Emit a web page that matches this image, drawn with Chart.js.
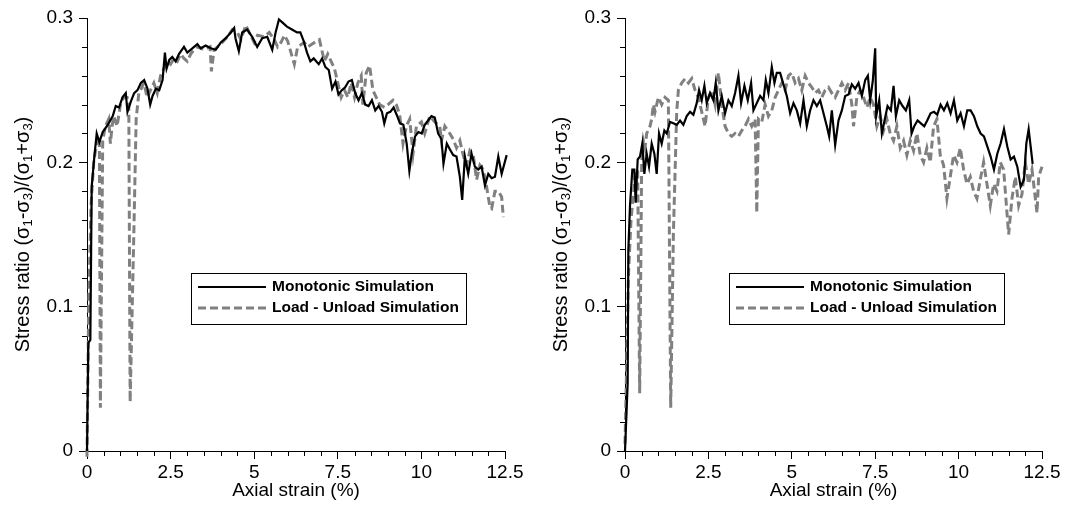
<!DOCTYPE html>
<html>
<head>
<meta charset="utf-8">
<script src="https://cdn.jsdelivr.net/npm/chart.js@4.4.1/dist/chart.umd.min.js"></script>
<style>
    body { margin: 0; background: #fff; }
    .wrap { position: absolute; top: 0; width: 542px; height: 517px; }
</style>
</head>
<body>
<div class="wrap" style="left:0"><canvas id="leftChart" width="542" height="517"></canvas></div>
<div class="wrap" style="left:542px"><canvas id="rightChart" width="542" height="517"></canvas></div>
<script>
// Left panel - monotonic
const leftMonoStrain = [
    0, 0.04, 0.1, 0.14, 0.22, 0.29, 0.37, 0.47, 0.62, 0.77,
    0.86, 0.96, 1.06, 1.16, 1.21, 1.31, 1.41, 1.51, 1.61, 1.71,
    1.81, 1.89, 1.96, 2.06, 2.16, 2.26, 2.33, 2.38, 2.46, 2.55,
    2.65, 2.75, 2.9, 3.0, 3.15, 3.3, 3.4, 3.55, 3.7, 3.85,
    4.0, 4.15, 4.3, 4.4, 4.44, 4.54, 4.64, 4.79, 4.94, 5.09,
    5.24, 5.39, 5.54, 5.64, 5.74, 5.84, 5.98, 6.13, 6.28, 6.38,
    6.48, 6.58, 6.68, 6.78, 6.93, 7.03, 7.13, 7.23, 7.33, 7.43,
    7.52, 7.62, 7.72, 7.82, 7.92, 8.02, 8.12, 8.22, 8.32, 8.42,
    8.52, 8.62, 8.72, 8.82, 8.89, 8.97, 9.07, 9.17, 9.26, 9.36,
    9.46, 9.56, 9.64, 9.71, 9.81, 9.91, 10.01, 10.1, 10.2, 10.3,
    10.4, 10.5, 10.6, 10.66, 10.76, 10.85, 10.95, 11.05, 11.15, 11.22,
    11.3, 11.4, 11.5, 11.6, 11.7, 11.8, 11.9, 12.0, 12.1, 12.2,
    12.3, 12.4, 12.55, 12.62
];
const leftMonoRatio = [
    0, 0.075, 0.077, 0.183, 0.204, 0.22, 0.214, 0.221, 0.226, 0.232,
    0.239, 0.238, 0.245, 0.248, 0.235, 0.242, 0.248, 0.25, 0.255, 0.257,
    0.251, 0.24, 0.246, 0.251, 0.25, 0.257, 0.276, 0.265, 0.271, 0.273,
    0.27, 0.275, 0.28, 0.276, 0.279, 0.282, 0.279, 0.281, 0.279, 0.278,
    0.283, 0.286, 0.29, 0.293, 0.286, 0.277, 0.29, 0.292, 0.287, 0.28,
    0.286, 0.287, 0.278, 0.29, 0.299, 0.297, 0.294, 0.292, 0.29, 0.29,
    0.284, 0.276, 0.27, 0.272, 0.268, 0.272, 0.266, 0.264, 0.251, 0.256,
    0.247, 0.25, 0.252, 0.256, 0.257, 0.248, 0.243, 0.248, 0.24, 0.239,
    0.243, 0.236, 0.239, 0.235, 0.227, 0.234, 0.235, 0.238, 0.233, 0.227,
    0.226, 0.213, 0.194, 0.206, 0.218, 0.221, 0.22, 0.226, 0.229, 0.232,
    0.231, 0.22, 0.216, 0.199, 0.213, 0.209, 0.205, 0.204, 0.19, 0.174,
    0.204, 0.192, 0.206, 0.197, 0.195, 0.197, 0.184, 0.192, 0.189, 0.19,
    0.204, 0.192, 0.205, 0.202
];

// Left panel - load/unload
const leftCycStrain = [
    0, 0.05, 0.12, 0.2, 0.3, 0.37, 0.4, 0.47, 0.55, 0.65,
    0.7, 0.75, 0.8, 0.9, 1.0, 1.1, 1.2, 1.25, 1.29, 1.4,
    1.47, 1.55, 1.6, 1.7, 1.8, 1.9, 2.0, 2.1, 2.2, 2.3,
    2.4, 2.5, 2.6, 2.7, 2.8, 2.9, 3.0, 3.1, 3.2, 3.3,
    3.5, 3.68, 3.72, 3.8, 4.0, 4.2, 4.35, 4.5, 4.6, 4.75,
    4.85, 5.0, 5.1, 5.3, 5.45, 5.6, 5.7, 5.8, 5.9, 6.0,
    6.1, 6.2, 6.3, 6.5, 6.6, 6.8, 6.95, 7.0, 7.1, 7.2,
    7.3, 7.4, 7.5, 7.6, 7.7, 7.8, 7.9, 8.0, 8.1, 8.2,
    8.25, 8.35, 8.45, 8.55, 8.65, 8.75, 8.9, 9.0, 9.15, 9.25,
    9.35, 9.45, 9.55, 9.65, 9.75, 9.85, 10.0, 10.1, 10.25, 10.4,
    10.55, 10.6, 10.7, 10.85, 10.95, 11.05, 11.15, 11.25, 11.35, 11.45,
    11.55, 11.65, 11.75, 11.85, 11.95, 12.05, 12.1, 12.2, 12.3, 12.4,
    12.45
];
const leftCycRatio = [
    -0.004, 0.1, 0.17, 0.2, 0.215, 0.218, 0.03, 0.215, 0.225, 0.23,
    0.213, 0.225, 0.232, 0.225, 0.24, 0.245, 0.245, 0.24, 0.034, 0.15,
    0.23, 0.248, 0.25, 0.255, 0.245, 0.25, 0.255, 0.248, 0.26, 0.265,
    0.27, 0.268, 0.272, 0.27, 0.275, 0.272, 0.27, 0.275, 0.278, 0.28,
    0.278, 0.28, 0.263, 0.278, 0.282, 0.287, 0.292, 0.29, 0.285, 0.295,
    0.29, 0.283, 0.288, 0.287, 0.29, 0.285, 0.28, 0.283, 0.288, 0.284,
    0.276, 0.268, 0.28, 0.283, 0.28, 0.283, 0.285, 0.28, 0.27, 0.275,
    0.27, 0.265, 0.255, 0.245, 0.25, 0.245, 0.255, 0.245, 0.255, 0.26,
    0.24, 0.262, 0.267, 0.25, 0.245, 0.24, 0.238, 0.24, 0.243, 0.24,
    0.233, 0.213, 0.225, 0.23, 0.206, 0.225, 0.228, 0.22, 0.232, 0.228,
    0.225, 0.215, 0.225, 0.22, 0.216, 0.21, 0.215, 0.205, 0.198, 0.208,
    0.205, 0.188, 0.198, 0.195, 0.183, 0.169, 0.168, 0.18, 0.18, 0.176,
    0.162
];

// Right panel - monotonic
const rightMonoStrain = [
    0, 0.08, 0.1, 0.15, 0.22, 0.28, 0.32, 0.38, 0.45, 0.52,
    0.58, 0.65, 0.72, 0.8, 0.88, 0.95, 1.02, 1.1, 1.18, 1.25,
    1.35, 1.45, 1.55, 1.65, 1.75, 1.85, 1.95, 2.05, 2.15, 2.22,
    2.3, 2.38, 2.45, 2.55, 2.65, 2.72, 2.8, 2.9, 3.0, 3.1,
    3.2, 3.3, 3.4, 3.48, 3.58, 3.68, 3.78, 3.85, 3.95, 4.05,
    4.15, 4.22, 4.3, 4.4, 4.48, 4.55, 4.65, 4.75, 4.85, 4.95,
    5.05, 5.15, 5.25, 5.35, 5.45, 5.55, 5.65, 5.75, 5.85, 5.95,
    6.05, 6.12, 6.2, 6.3, 6.4, 6.5, 6.6, 6.7, 6.8, 6.9,
    7.0, 7.1, 7.2, 7.28, 7.35, 7.43, 7.5, 7.53, 7.62, 7.7,
    7.78, 7.87, 7.97, 8.05, 8.12, 8.22, 8.32, 8.42, 8.52, 8.59,
    8.67, 8.77, 8.87, 8.97, 9.06, 9.16, 9.26, 9.36, 9.46, 9.56,
    9.66, 9.76, 9.86, 9.96, 10.06, 10.16, 10.26, 10.36, 10.46, 10.56,
    10.66, 10.76, 10.86, 10.96, 11.06, 11.16, 11.26, 11.36, 11.46, 11.56,
    11.66, 11.76, 11.86, 11.96, 12.03, 12.1, 12.17, 12.22
];
const rightMonoRatio = [
    0, 0.047, 0.139, 0.17, 0.195, 0.195, 0.172, 0.202, 0.204, 0.213,
    0.192, 0.206, 0.197, 0.213, 0.206, 0.192, 0.22, 0.213, 0.222, 0.22,
    0.228, 0.227, 0.226, 0.229, 0.226, 0.232, 0.235, 0.233, 0.241, 0.25,
    0.243, 0.253, 0.241, 0.248, 0.243, 0.255, 0.236, 0.246, 0.234, 0.243,
    0.239, 0.248, 0.26, 0.241, 0.253, 0.243, 0.255, 0.236, 0.241, 0.246,
    0.243, 0.257, 0.248, 0.266, 0.255, 0.262, 0.262, 0.254, 0.246, 0.234,
    0.241, 0.236, 0.227, 0.243, 0.225, 0.236, 0.243, 0.239, 0.243, 0.234,
    0.225, 0.218, 0.236, 0.212, 0.229, 0.236, 0.246, 0.247, 0.254, 0.251,
    0.255, 0.246, 0.257, 0.26, 0.243, 0.257, 0.279, 0.232, 0.243, 0.22,
    0.229, 0.239, 0.236, 0.253, 0.232, 0.243, 0.239, 0.236, 0.243, 0.22,
    0.225, 0.229, 0.227, 0.225, 0.229, 0.234, 0.235, 0.233, 0.24, 0.236,
    0.241, 0.234, 0.243, 0.229, 0.234, 0.225, 0.236, 0.236, 0.232, 0.225,
    0.22, 0.218, 0.211, 0.204, 0.195, 0.206, 0.213, 0.223, 0.211, 0.202,
    0.204, 0.197, 0.183, 0.188, 0.213, 0.223, 0.209, 0.199
];

// Right panel - load/unload
const rightCycStrain = [
    0, 0.05, 0.1, 0.18, 0.3, 0.38, 0.44, 0.5, 0.55, 0.6,
    0.65, 0.75, 0.8, 0.85, 0.9, 1.0, 1.1, 1.2, 1.3, 1.37,
    1.45, 1.55, 1.6, 1.7, 1.8, 1.9, 2.0, 2.1, 2.2, 2.3,
    2.4, 2.5, 2.6, 2.7, 2.8, 2.9, 3.0, 3.1, 3.2, 3.3,
    3.4, 3.5, 3.6, 3.7, 3.8, 3.9, 3.95, 4.0, 4.1, 4.2,
    4.3, 4.4, 4.5, 4.6, 4.7, 4.8, 4.9, 5.0, 5.1, 5.2,
    5.3, 5.4, 5.5, 5.6, 5.7, 5.8, 5.9, 6.0, 6.1, 6.2,
    6.3, 6.4, 6.5, 6.6, 6.7, 6.8, 6.85, 6.95, 7.05, 7.15,
    7.25, 7.35, 7.45, 7.55, 7.65, 7.75, 7.85, 7.95, 8.05, 8.15,
    8.25, 8.35, 8.45, 8.55, 8.65, 8.75, 8.85, 8.95, 9.05, 9.15,
    9.25, 9.35, 9.45, 9.55, 9.65, 9.75, 9.85, 9.95, 10.05, 10.15,
    10.25, 10.35, 10.45, 10.55, 10.65, 10.75, 10.85, 10.95, 11.05, 11.15,
    11.25, 11.35, 11.45, 11.5, 11.6, 11.7, 11.8, 11.9, 12.0, 12.1,
    12.2, 12.3, 12.35, 12.4, 12.5
];
const rightCycRatio = [
    0.005, 0.06, 0.12, 0.16, 0.19, 0.195, 0.04, 0.2, 0.215, 0.21,
    0.22, 0.225, 0.23, 0.24, 0.235, 0.245, 0.24, 0.245, 0.243, 0.03,
    0.15, 0.235, 0.25, 0.255, 0.258, 0.255, 0.258, 0.25, 0.245, 0.235,
    0.225, 0.245, 0.25, 0.24, 0.262, 0.24, 0.225, 0.22, 0.218, 0.22,
    0.218, 0.222, 0.225, 0.23, 0.225, 0.23, 0.165, 0.23, 0.228, 0.24,
    0.232, 0.236, 0.245, 0.25, 0.255, 0.25, 0.26, 0.262, 0.255, 0.258,
    0.25, 0.26, 0.255, 0.252, 0.248, 0.25, 0.245, 0.25, 0.252, 0.248,
    0.245, 0.25, 0.255, 0.25, 0.255, 0.24, 0.225, 0.245, 0.25, 0.245,
    0.238, 0.245, 0.24, 0.225, 0.232, 0.222, 0.23, 0.22, 0.215, 0.225,
    0.21, 0.215, 0.205, 0.215, 0.208, 0.22, 0.205, 0.2, 0.21, 0.2,
    0.225, 0.23, 0.205, 0.198, 0.175, 0.19, 0.205, 0.2, 0.21, 0.195,
    0.185, 0.19, 0.18, 0.175, 0.188, 0.2, 0.185, 0.17, 0.185, 0.18,
    0.2, 0.195, 0.165, 0.15, 0.175, 0.19, 0.17, 0.178, 0.2, 0.185,
    0.195, 0.175, 0.165, 0.19, 0.197
];

const fontFamily = '"Liberation Sans", Arial, sans-serif';

function toPoints(xs, ys) {
    return xs.map(function(x, i) { return { x: x, y: ys[i] }; });
}

// minor ticks, y title with subscripts and the boxed legend
const extrasPlugin = {
    id: 'extras',
    afterDraw: function(chart) {
        const ctx = chart.ctx;
        const xs = chart.scales.x;
        const ys = chart.scales.y;
        const area = chart.chartArea;
        ctx.save();

        ctx.strokeStyle = '#000';
        ctx.lineWidth = 1;
        ctx.beginPath();
        for (let i = 1; i < 25; i++) {
            if (i % 5 === 0) continue;
            const px = Math.round(xs.getPixelForValue(i * 0.5)) + 0.5;
            ctx.moveTo(px, area.bottom);
            ctx.lineTo(px, area.bottom + 5);
        }
        for (let i = 1; i < 15; i++) {
            if (i % 5 === 0) continue;
            const py = Math.round(ys.getPixelForValue(i * 0.02)) + 0.5;
            ctx.moveTo(area.left, py);
            ctx.lineTo(area.left - 5, py);
        }
        ctx.stroke();

        // y axis title
        const parts = [['Stress ratio (\u03c3', false], ['1', true], ['-\u03c3', false], ['3', true],
                       [')/(\u03c3', false], ['1', true], ['+\u03c3', false], ['3', true], [')', false]];
        const bigFont = '20px ' + fontFamily;
        const smallFont = '13px ' + fontFamily;
        let total = 0;
        parts.forEach(function(p) {
            ctx.font = p[1] ? smallFont : bigFont;
            total += ctx.measureText(p[0]).width;
        });
        ctx.translate(area.left - 64, (area.top + area.bottom) / 2);
        ctx.rotate(-Math.PI / 2);
        ctx.fillStyle = '#000';
        ctx.textBaseline = 'middle';
        let tx = -total / 2;
        parts.forEach(function(p) {
            ctx.font = p[1] ? smallFont : bigFont;
            ctx.fillText(p[0], tx, p[1] ? 5 : 0);
            tx += ctx.measureText(p[0]).width;
        });
        ctx.setTransform(1, 0, 0, 1, 0, 0);

        // legend box
        const bx = Math.round(area.left) + 104;
        const by = 273;
        ctx.fillStyle = '#fff';
        ctx.fillRect(bx, by, 275, 51);
        ctx.strokeStyle = '#000';
        ctx.lineWidth = 1;
        ctx.strokeRect(bx + 0.5, by + 0.5, 275, 51);

        const ds = chart.data.datasets;
        ctx.beginPath();
        ctx.strokeStyle = ds[0].borderColor;
        ctx.lineWidth = ds[0].borderWidth;
        ctx.moveTo(bx + 7, by + 14);
        ctx.lineTo(bx + 75, by + 14);
        ctx.stroke();

        ctx.beginPath();
        ctx.setLineDash(ds[1].borderDash);
        ctx.strokeStyle = ds[1].borderColor;
        ctx.lineWidth = ds[1].borderWidth;
        ctx.moveTo(bx + 7, by + 35);
        ctx.lineTo(bx + 75, by + 35);
        ctx.stroke();
        ctx.setLineDash([]);

        ctx.fillStyle = '#000';
        ctx.font = 'bold 15.5px ' + fontFamily;
        ctx.textBaseline = 'middle';
        ctx.fillText(ds[0].label, bx + 81, by + 14);
        ctx.fillText(ds[1].label, bx + 81, by + 35);
        ctx.restore();
    }
};

function buildChart(id, monoStrain, monoRatio, cycStrain, cycRatio, axisWidth, rightPad) {
    return new Chart(document.getElementById(id), {
        type: 'line',
        data: {
            datasets: [{
                label: 'Monotonic Simulation',
                data: toPoints(monoStrain, monoRatio),
                borderColor: '#000000',
                borderWidth: 2.2,
                pointRadius: 0,
                tension: 0,
                clip: false
            }, {
                label: 'Load - Unload Simulation',
                data: toPoints(cycStrain, cycRatio),
                borderColor: '#808080',
                borderWidth: 3,
                borderDash: [8, 4],
                pointRadius: 0,
                tension: 0,
                clip: false
            }]
        },
        options: {
            responsive: false,
            animation: false,
            events: [],
            layout: { padding: { left: 0, top: 18, right: rightPad, bottom: 15 } },
            plugins: {
                legend: { display: false },
                tooltip: { enabled: false }
            },
            scales: {
                x: {
                    type: 'linear',
                    min: 0,
                    max: 12.5,
                    ticks: { stepSize: 2.5, color: '#000', font: { size: 19, family: fontFamily }, padding: 2, maxRotation: 0, autoSkip: false },
                    grid: { drawOnChartArea: false, drawTicks: true, tickLength: 8, color: '#000' },
                    border: { color: '#000', width: 1 },
                    title: { display: true, text: 'Axial strain (%)', color: '#000', font: { size: 19, family: fontFamily }, padding: 0 },
                    afterFit: function(scale) { scale.height = 51; }
                },
                y: {
                    min: 0,
                    max: 0.3,
                    ticks: { stepSize: 0.1, color: '#000', font: { size: 19, family: fontFamily }, padding: 6 },
                    grid: { drawOnChartArea: false, drawTicks: true, tickLength: 8, color: '#000' },
                    border: { color: '#000', width: 1 },
                    afterFit: function(scale) { scale.width = axisWidth; }
                }
            }
        },
        plugins: [extrasPlugin]
    });
}

buildChart('leftChart', leftMonoStrain, leftMonoRatio, leftCycStrain, leftCycRatio, 87, 37);
buildChart('rightChart', rightMonoStrain, rightMonoRatio, rightCycStrain, rightCycRatio, 83, 42);
</script>
</body>
</html>
